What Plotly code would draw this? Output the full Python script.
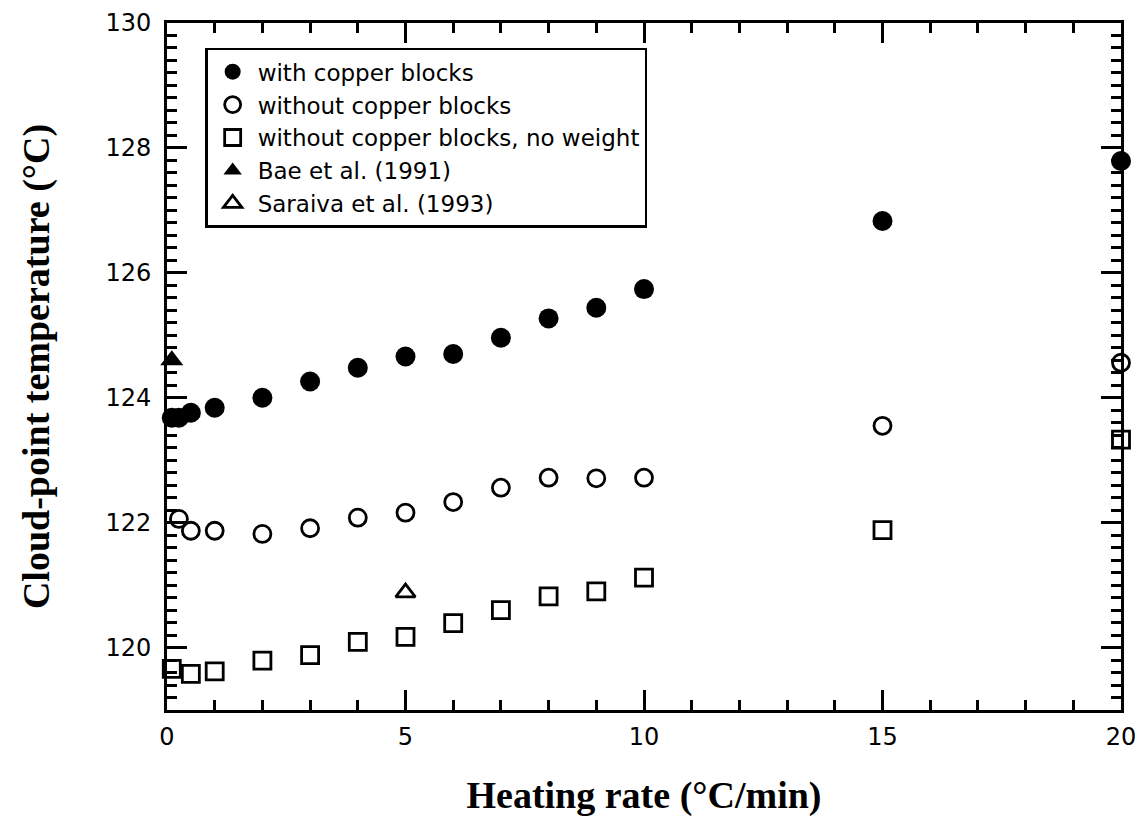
import plotly.graph_objects as go

# ---- data ----
x_copper = [0.1, 0.25, 0.5, 1, 2, 3, 4, 5, 6, 7, 8, 9, 10, 15, 20]
y_copper = [123.68, 123.68, 123.76, 123.84, 124.0, 124.26, 124.48, 124.66,
            124.70, 124.96, 125.27, 125.44, 125.74, 126.83, 127.79]

x_nocopper = [0.25, 0.5, 1, 2, 3, 4, 5, 6, 7, 8, 9, 10, 15, 20]
y_nocopper = [122.06, 121.87, 121.87, 121.82, 121.91, 122.08, 122.16, 122.33,
              122.56, 122.72, 122.71, 122.72, 123.55, 124.56]

x_noweight = [0.1, 0.5, 1, 2, 3, 4, 5, 6, 7, 8, 9, 10, 15, 20]
y_noweight = [119.66, 119.58, 119.62, 119.79, 119.88, 120.09, 120.17, 120.39,
              120.60, 120.82, 120.90, 121.12, 121.88, 123.33]

x_bae = [0.1]
y_bae = [124.6]

x_saraiva = [5]
y_saraiva = [120.88]

series_names = ["with copper blocks",
                "without copper blocks",
                "without copper blocks, no weight",
                "Bae et al. (1991)",
                "Saraiva et al. (1993)"]

x_tick_vals = [0, 5, 10, 15, 20]
x_tick_text = ["0", "5", "10", "15", "20"]
y_tick_vals = [120, 122, 124, 126, 128, 130]
y_tick_text = ["120", "122", "124", "126", "128", "130"]

x_title = "Heating rate (°C/min)"
y_title = "Cloud-point temperature (°C)"

# ---- figure ----
fig = go.Figure()

fig.add_trace(go.Scatter(
    x=x_copper, y=y_copper, mode="markers", name=series_names[0],
    cliponaxis=False,
    marker=dict(symbol="circle", size=20, color="black",
                line=dict(width=0))))
fig.add_trace(go.Scatter(
    x=x_nocopper, y=y_nocopper, mode="markers", name=series_names[1],
    cliponaxis=False,
    marker=dict(symbol="circle-open", size=17, color="black",
                line=dict(width=2.8, color="black"))))
fig.add_trace(go.Scatter(
    x=x_noweight, y=y_noweight, mode="markers", name=series_names[2],
    cliponaxis=False,
    marker=dict(symbol="square-open", size=17, color="black",
                line=dict(width=2.8, color="black"))))
fig.add_trace(go.Scatter(
    x=x_bae, y=y_bae, mode="markers", name=series_names[3],
    cliponaxis=False,
    marker=dict(symbol="triangle-up", size=20, color="black",
                line=dict(width=0))))
fig.add_trace(go.Scatter(
    x=x_saraiva, y=y_saraiva, mode="markers", name=series_names[4],
    cliponaxis=False,
    marker=dict(symbol="triangle-up-open", size=17, color="black",
                line=dict(width=2.8, color="black"))))

axis_common = dict(
    showline=True, linewidth=3, linecolor="black", mirror="allticks",
    ticks="inside", ticklen=20, tickwidth=3, tickcolor="black",
    showgrid=False, zeroline=False, ticklabeloverflow="allow",
    tickfont=dict(family="DejaVu Sans", size=24, color="black"),
)

fig.update_xaxes(
    range=[0, 20], tickmode="array", tickvals=x_tick_vals, ticktext=x_tick_text,
    minor=dict(dtick=1, tick0=0, ticks="inside", ticklen=10, tickwidth=2.5,
               tickcolor="black", showgrid=False),
    ticklabelstandoff=3,
    title=dict(text=x_title, standoff=39,
               font=dict(family="Liberation Serif", size=38, color="black",
                         weight="bold")),
    **axis_common)

fig.update_yaxes(
    range=[119, 130], tickmode="array", tickvals=y_tick_vals, ticktext=y_tick_text,
    minor=dict(dtick=0.2, tick0=119, ticks="inside", ticklen=10, tickwidth=2.5,
               tickcolor="black", showgrid=False),
    ticklabelstandoff=8,
    title=dict(text=y_title, standoff=45,
               font=dict(family="Liberation Serif", size=38, color="black",
                         weight="bold")),
    **axis_common)

fig.update_layout(
    width=1129, height=809,
    margin=dict(l=159, r=16, t=15, b=107, autoexpand=False),
    plot_bgcolor="white", paper_bgcolor="white",
    showlegend=True,
    legend=dict(x=0.04, y=0.964, xanchor="left", yanchor="top",
                bordercolor="black", borderwidth=2.5, bgcolor="white",
                font=dict(family="DejaVu Sans", size=23, color="black"),
                tracegroupgap=0, itemwidth=40),
)

fig.write_html("out.html")
